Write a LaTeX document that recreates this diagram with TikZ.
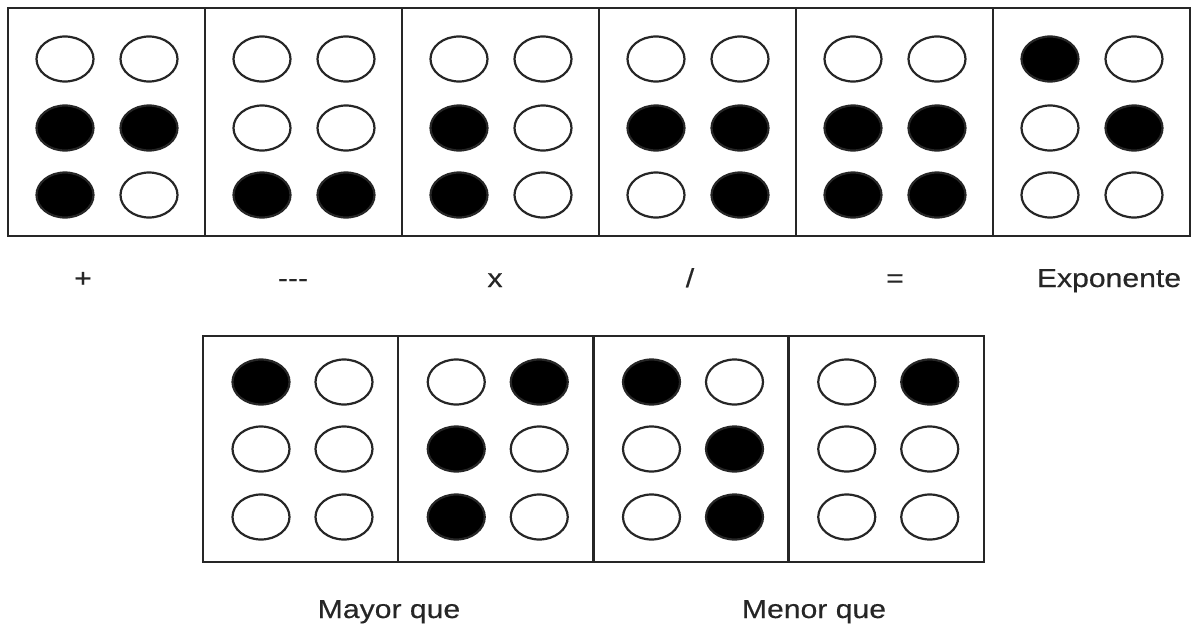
\documentclass[tikz,border=0pt]{standalone}
\usepackage{fontspec}
\setmainfont[FakeStretch=1.16,FakeBold=0.4]{Liberation Sans}
\usetikzlibrary{shapes.geometric}
\definecolor{d0}{RGB}{255,255,255}
\definecolor{d1}{RGB}{0,0,0}
\begin{document}
\begin{tikzpicture}[x=1pt,y=-1pt,
  cellbox/.style={draw=black!85, line width=2.5pt, inner sep=0pt},
  dot/.style={ellipse, draw=black!85, line width=2.2pt, minimum width=57pt, minimum height=45pt, inner sep=0pt},
  lbl/.style={font=\fontsize{26}{30}\selectfont, text=black!85, inner sep=0pt, anchor=base}]
\useasboundingbox (0,0) rectangle (1197,629);
% top row
\foreach \p [count=\i from 0] in {{0,0,1,1,1,0},{0,0,0,0,1,1},{0,0,1,0,1,0},{0,0,1,1,0,1},{0,0,1,1,1,1},{1,0,0,1,0,0}}{
  \pgfmathsetmacro{\xl}{8+197*\i}
  \node[cellbox, minimum width=197pt, minimum height=228pt] (t\i) at (\xl+98.5,122) {};
  \foreach \f [count=\k from 0] in \p {
    \pgfmathtruncatemacro{\r}{int(\k/2)}
    \pgfmathtruncatemacro{\c}{mod(\k,2)}
    \pgfmathsetmacro{\yy}{\r==0 ? 59 : (\r==1 ? 128 : 195)}
    \node[dot, fill=d\f] (t\i-\k) at (\xl+57+84*\c,\yy) {};
  }
}
% bottom row
\foreach \p [count=\i from 0] in {{1,0,0,0,0,0},{0,1,1,0,1,0},{1,0,0,1,0,1},{0,1,0,0,0,0}}{
  \pgfmathsetmacro{\xl}{203+195.25*\i}
  \node[cellbox, minimum width=195.25pt, minimum height=226pt] (b\i) at (\xl+97.6,449) {};
  \foreach \f [count=\k from 0] in \p {
    \pgfmathtruncatemacro{\r}{int(\k/2)}
    \pgfmathtruncatemacro{\c}{mod(\k,2)}
    \pgfmathsetmacro{\yy}{\r==0 ? 382 : (\r==1 ? 449 : 517)}
    \node[dot, fill=d\f] (b\i-\k) at (\xl+58+83*\c,\yy) {};
  }
}
% labels
\node[lbl] (l1) at (83,287) {+};
\node[lbl] (l2) at (293,287) {-{}-{}-};
\node[lbl] (l3) at (495,287) {x};
\node[lbl] (l4) at (690,287) {/};
\node[lbl] (l5) at (895,287) {=};
\node[lbl] (l6) at (1109,287) {Exponente};
\node[lbl] (l7) at (389,618) {Mayor que};
\node[lbl] (l8) at (814,618) {Menor que};
\end{tikzpicture}
\end{document}
